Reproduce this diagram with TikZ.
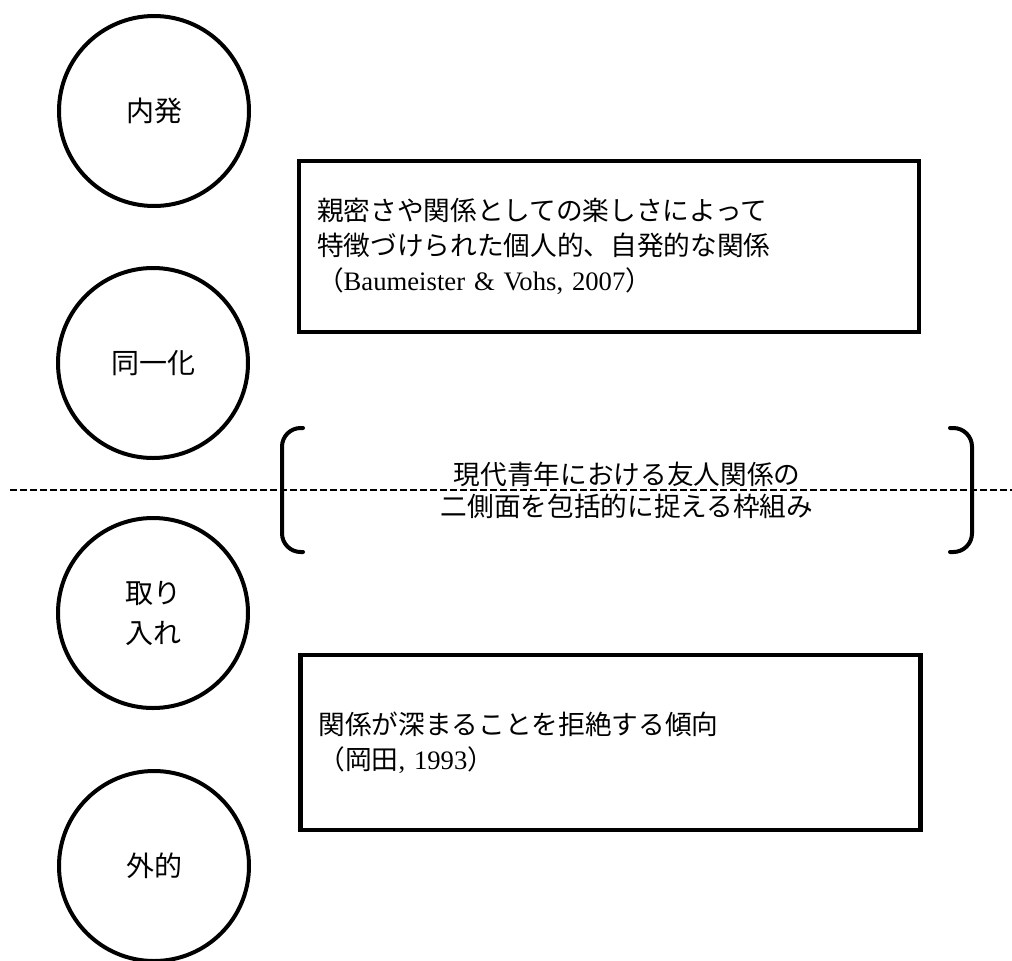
\documentclass[tikz,border=0pt]{standalone}
\usepackage{fontspec}
\setmainfont{Liberation Serif}
\newfontfamily\jpfont{Noto Sans CJK JP}
\newfontfamily\latfont{Liberation Serif}
\usepackage{tikz}

\tikzset{
  motive/.style={draw, circle, line width=3pt, minimum size=142.5pt, inner sep=0pt, align=center, font=\jpfont\fontsize{21pt}{30pt}\selectfont},
  defbox/.style={draw, rectangle, line width=3.2pt, inner xsep=13.5pt, inner ysep=0pt, text width=438pt, align=left, font=\jpfont\fontsize{20pt}{26.25pt}\selectfont},
  frametext/.style={rectangle, outer sep=0pt, inner sep=0pt, minimum width=517.5pt, minimum height=93pt, align=center, font=\jpfont\fontsize{20pt}{24pt}\selectfont},
  bracket/.style={line width=3pt, rounded corners=14pt, line cap=round},
  divider/.style={line width=1.5pt, dash pattern=on 5pt off 2.5pt},
}

\begin{document}
\begin{tikzpicture}[x=0.75pt,y=0.75pt,yscale=-1,xscale=1]
        \useasboundingbox (0,0) rectangle (1012,960);
        \node[motive] (intr) at (154,111) {内発};
        \node[motive] (iden) at (153,363) {同一化};
        \node[motive] (intro) at (153,613) {取り\\入れ};
        \node[motive] (extr) at (154,866) {外的};

        \node[defbox, minimum height=128.25pt] (intim) at (609,246.5) {親密さや関係としての楽しさによって\\特徴づけられた個人的、自発的な関係\\（{\latfont Baumeister \& Vohs, 2007}）};
        \node[defbox, minimum height=131.25pt] (rejec) at (610.5,742.5) {関係が深まることを拒絶する傾向\\（岡田{\latfont , 1993}）};

        \node[frametext] (frame) at (627,490) {現代青年における友人関係の\\二側面を包括的に捉える枠組み};
        \draw[bracket] ([xshift=15.75pt]frame.north west) -- (frame.north west) -- (frame.south west) -- ([xshift=15.75pt]frame.south west);
        \draw[bracket] ([xshift=-16.5pt]frame.north east) -- (frame.north east) -- (frame.south east) -- ([xshift=-16.5pt]frame.south east);

        \coordinate (divl) at (10,490);
        \coordinate (divr) at (1012,490);
        \draw[divider] (divl) -- (divr);
\end{tikzpicture}
\end{document}
